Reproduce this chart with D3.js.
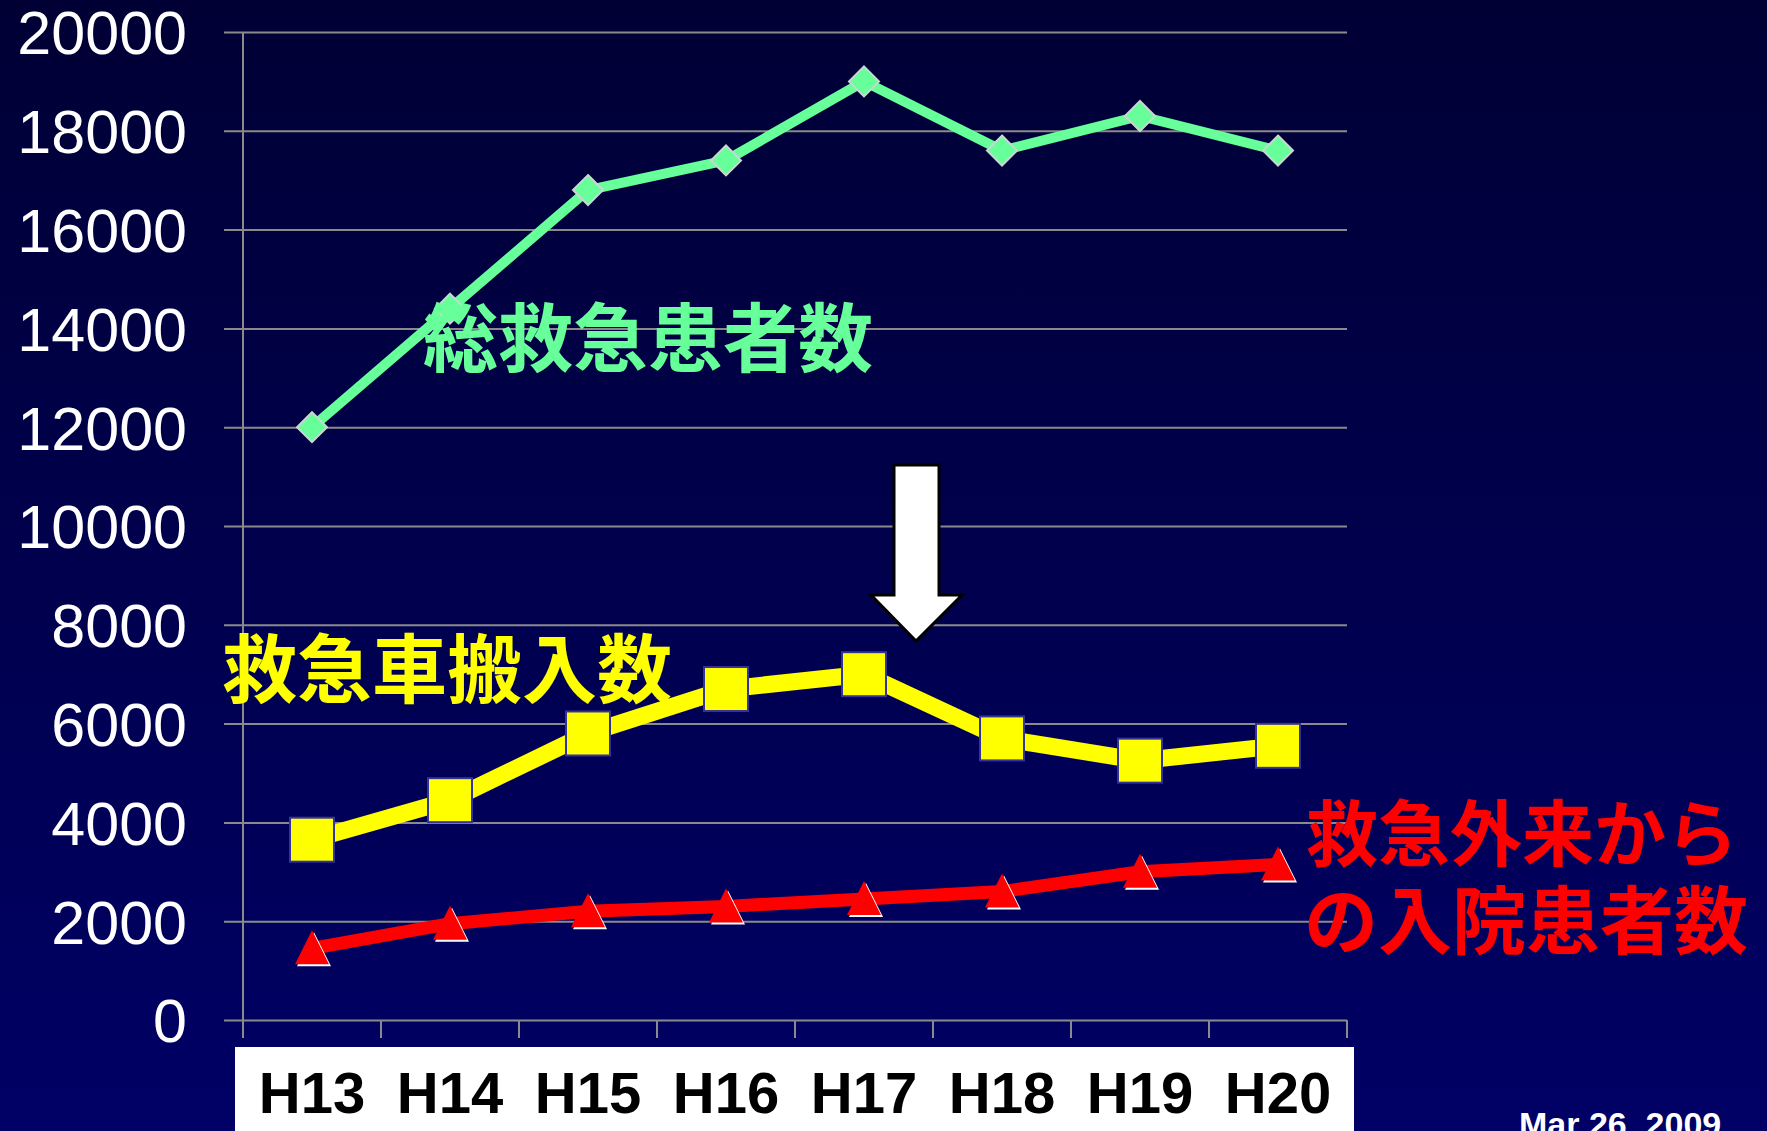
<!DOCTYPE html>
<html>
<head>
	<meta charset="utf-8">
	<script type="text/javascript" src="https://cdn.jsdelivr.net/npm/d3@7"></script>
	<title>救急患者数</title>
	<style>
		body { margin: 0; background: #000050; }
		svg { display: block; }
	</style>
</head>
<body>
	<script type="text/javascript">
		// data
		var years = ["H13", "H14", "H15", "H16", "H17", "H18", "H19", "H20"];
		var totalPatients = [12000, 14400, 16800, 17400, 19000, 17600, 18300, 17600];
		var ambulance = [3650, 4450, 5800, 6700, 7000, 5700, 5250, 5550];
		var admitted = [1450, 1950, 2200, 2300, 2450, 2600, 3000, 3150];
		var yTicks = [0, 2000, 4000, 6000, 8000, 10000, 12000, 14000, 16000, 18000, 20000];

		var w = 1767;
		var h = 1131;

		var svg = d3.select("body")
					.append("svg")
					.attr("width", w)
					.attr("height", h);

		// background: dark navy, a bit lighter at the bottom
		var grad = svg.append("defs")
					  .append("linearGradient")
					  .attr("id", "bg")
					  .attr("x1", 0).attr("y1", 0)
					  .attr("x2", 0).attr("y2", 1);
		grad.append("stop").attr("offset", "0%").attr("stop-color", "#000035");
		grad.append("stop").attr("offset", "100%").attr("stop-color", "#000066");

		svg.append("rect")
		   .attr("width", w)
		   .attr("height", h)
		   .attr("fill", "url(#bg)");

		var x = d3.scaleBand()
				  .domain(years)
				  .range([243, 1347])
				  .padding(0);

		var y = d3.scaleLinear()
				  .domain([0, 20000])
				  .range([1020, 32]);

		function cx(d, i) { return x(years[i]) + x.bandwidth() / 2; }

		// horizontal gridlines + y axis labels
		var yAxis = d3.axisLeft(y)
					  .tickValues(yTicks)
					  .tickFormat(d3.format("d"));

		var gy = svg.append("g")
					.attr("transform", "translate(1347,0)")
					.call(yAxis);
		gy.select(".domain").remove();
		gy.selectAll(".tick line")
		  .attr("x1", 0)
		  .attr("x2", -(1347 - 224))
		  .attr("stroke", "#8a8a8a")
		  .attr("stroke-width", 2);
		gy.selectAll(".tick text")
		  .attr("x", -(1347 - 187))
		  .attr("dy", "0.36em")
		  .attr("fill", "#ffffff")
		  .attr("font-family", "'Liberation Sans', Arial, sans-serif")
		  .attr("font-size", 61)
		  .attr("text-anchor", "end");

		// vertical axis line
		svg.append("line")
		   .attr("x1", 243).attr("x2", 243)
		   .attr("y1", 32).attr("y2", 1038)
		   .attr("stroke", "#8a8a8a")
		   .attr("stroke-width", 2);

		// x tick marks at band edges
		var edges = years.map(function(d) { return x(d); }).concat([1347]);
		svg.selectAll("line.xtick")
		   .data(edges)
		   .enter()
		   .append("line")
		   .attr("class", "xtick")
		   .attr("x1", function(d) { return d; })
		   .attr("x2", function(d) { return d; })
		   .attr("y1", 1020)
		   .attr("y2", 1038)
		   .attr("stroke", "#8a8a8a")
		   .attr("stroke-width", 2);

		// white box behind category labels
		svg.append("rect")
		   .attr("x", 235)
		   .attr("y", 1047)
		   .attr("width", 1354 - 235)
		   .attr("height", h - 1047)
		   .attr("fill", "#ffffff");

		svg.selectAll("text.cat")
		   .data(years)
		   .enter()
		   .append("text")
		   .attr("class", "cat")
		   .attr("x", function(d) { return x(d) + x.bandwidth() / 2; })
		   .attr("y", 1113)
		   .attr("text-anchor", "middle")
		   .attr("font-family", "'Liberation Sans', Arial, sans-serif")
		   .attr("font-weight", "bold")
		   .attr("font-size", 58)
		   .attr("fill", "#000000")
		   .text(function(d) { return d; });

		var line = d3.line()
					 .x(function(d, i) { return cx(d, i); })
					 .y(function(d) { return y(d); });

		// lines
		svg.append("path")
		   .datum(totalPatients)
		   .attr("d", line)
		   .attr("fill", "none")
		   .attr("stroke", "#66ff99")
		   .attr("stroke-width", 10)
		   .attr("stroke-linejoin", "round");

		svg.append("path")
		   .datum(ambulance)
		   .attr("d", line)
		   .attr("fill", "none")
		   .attr("stroke", "#ffff00")
		   .attr("stroke-width", 17);

		svg.append("path")
		   .datum(admitted)
		   .attr("d", line)
		   .attr("fill", "none")
		   .attr("stroke", "#ff0000")
		   .attr("stroke-width", 13);

		// markers
		svg.selectAll("path.diamond")
		   .data(totalPatients)
		   .enter()
		   .append("path")
		   .attr("class", "diamond")
		   .attr("d", "M0,-15L15,0L0,15L-15,0Z")
		   .attr("transform", function(d, i) { return "translate(" + cx(d, i) + "," + y(d) + ")"; })
		   .attr("fill", "#66ff99")
		   .attr("stroke", "#c8d8d0")
		   .attr("stroke-width", 2);

		svg.selectAll("rect.square")
		   .data(ambulance)
		   .enter()
		   .append("rect")
		   .attr("class", "square")
		   .attr("x", function(d, i) { return cx(d, i) - 22; })
		   .attr("y", function(d) { return y(d) - 22; })
		   .attr("width", 44)
		   .attr("height", 44)
		   .attr("fill", "#ffff00")
		   .attr("stroke", "#333399")
		   .attr("stroke-width", 2);

		var tri = "M0,-18L17,16L-17,16Z";
		svg.selectAll("path.trishadow")
		   .data(admitted)
		   .enter()
		   .append("path")
		   .attr("class", "trishadow")
		   .attr("d", tri)
		   .attr("transform", function(d, i) { return "translate(" + (cx(d, i) + 2) + "," + (y(d) + 2) + ")"; })
		   .attr("fill", "#ffffff");

		svg.selectAll("path.tri")
		   .data(admitted)
		   .enter()
		   .append("path")
		   .attr("class", "tri")
		   .attr("d", tri)
		   .attr("transform", function(d, i) { return "translate(" + cx(d, i) + "," + y(d) + ")"; })
		   .attr("fill", "#ff0000");

		// series labels
		var jp = "'Noto Sans CJK JP', 'Noto Sans CJK SC', sans-serif";
		var labels = [
			{ t: "総救急患者数", x: 423, y: 366, c: "#66ff99", s: 75 },
			{ t: "救急車搬入数", x: 222, y: 697, c: "#ffff00", s: 75 },
			{ t: "救急外来から", x: 1306, y: 860, c: "#ff0000", s: 72 },
			{ t: "の入院患者数", x: 1304, y: 948, c: "#ff0000", s: 74 }
		];
		svg.selectAll("text.lab")
		   .data(labels)
		   .enter()
		   .append("text")
		   .attr("class", "lab")
		   .attr("x", function(d) { return d.x; })
		   .attr("y", function(d) { return d.y; })
		   .attr("fill", function(d) { return d.c; })
		   .attr("font-size", function(d) { return d.s; })
		   .attr("font-family", jp)
		   .attr("font-weight", "bold")
		   .text(function(d) { return d.t; });

		// down arrow
		svg.append("path")
		   .attr("d", "M894,465L939,465L939,595L962,595L916,641L871,595L894,595Z")
		   .attr("fill", "#ffffff")
		   .attr("stroke", "#000000")
		   .attr("stroke-width", 3);

		// date in the corner, cut by the bottom edge like the original
		svg.append("text")
		   .attr("x", 1519)
		   .attr("y", 1136)
		   .attr("fill", "#ffffff")
		   .attr("font-family", "'Liberation Sans', Arial, sans-serif")
		   .attr("font-weight", "bold")
		   .attr("font-size", 34)
		   .text("Mar 26, 2009");
	</script>
</body>
</html>
